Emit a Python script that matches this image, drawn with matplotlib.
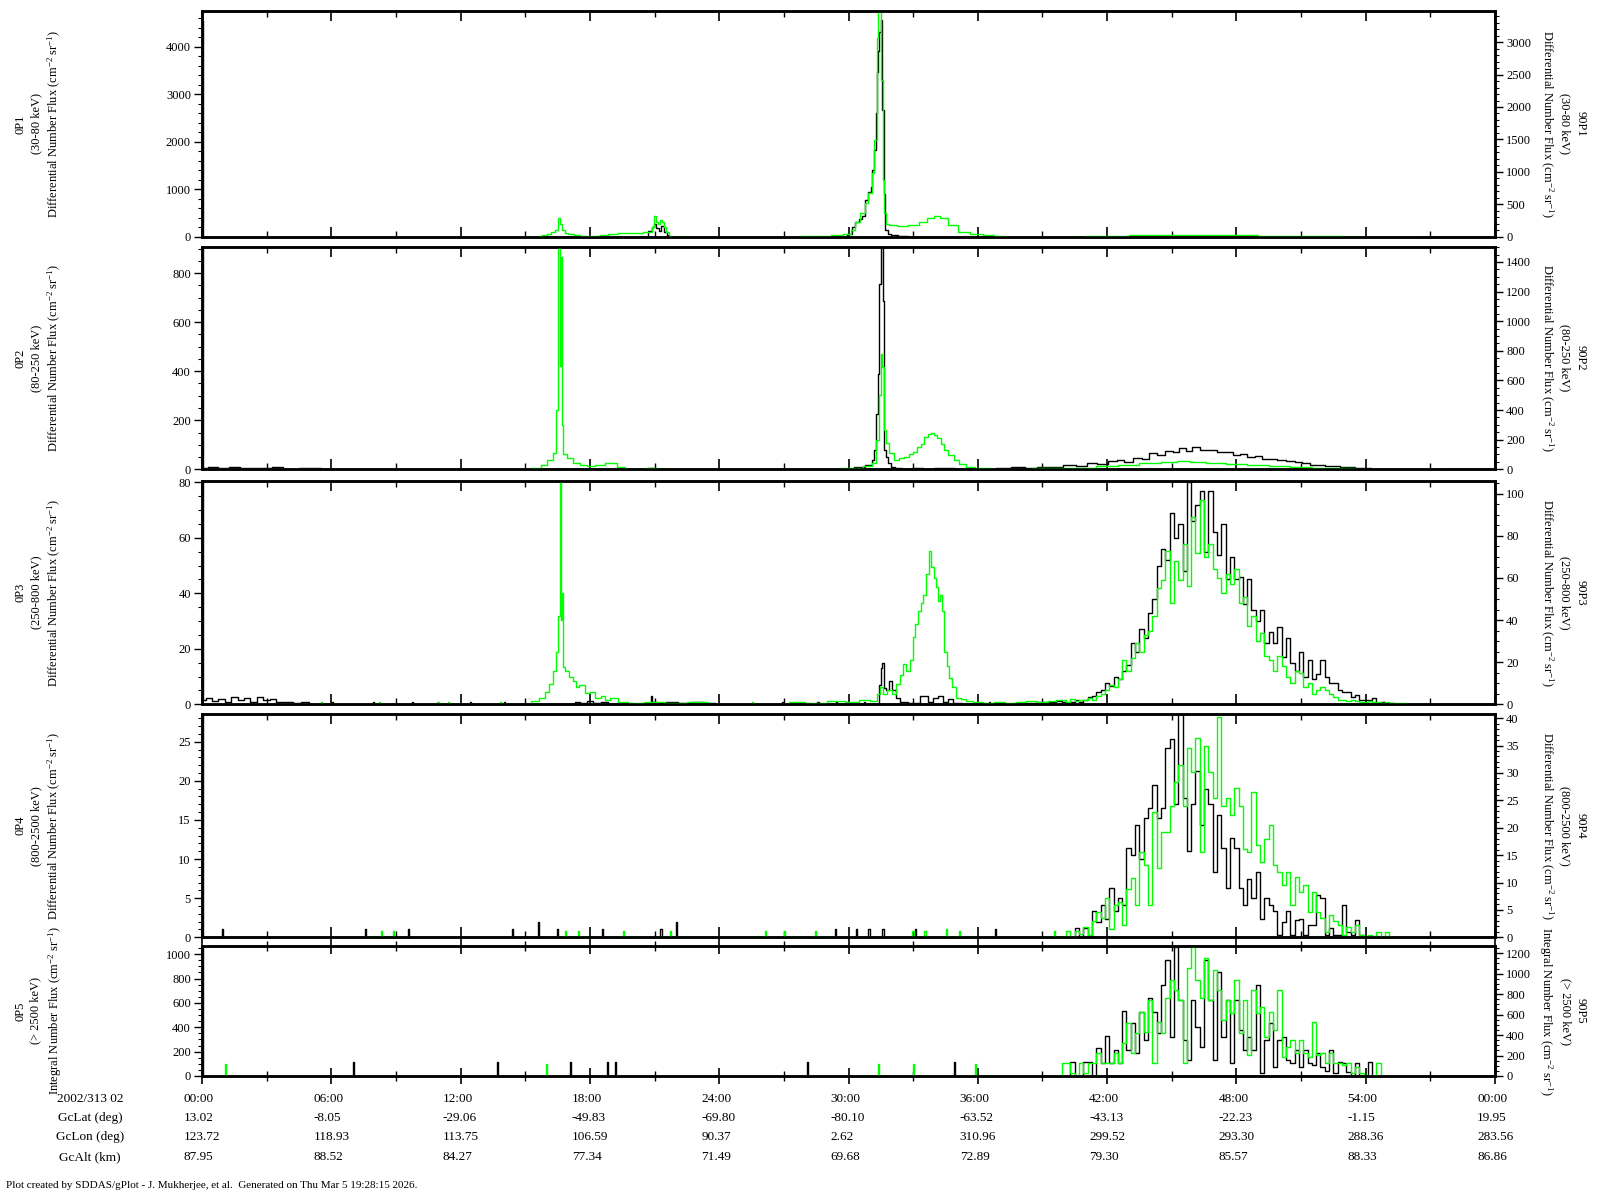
import matplotlib
matplotlib.use('Agg')
import matplotlib.pyplot as plt
import matplotlib.transforms as mtransforms
from matplotlib.ticker import MultipleLocator, AutoMinorLocator
import numpy as np

plt.rcParams['font.family'] = 'Liberation Serif'
plt.rcParams['mathtext.fontset'] = 'custom'
plt.rcParams['mathtext.rm'] = 'Liberation Serif'
plt.rcParams['mathtext.it'] = 'Liberation Serif:italic'

# ------------------------------------------------------------------
# data (hours since 2002/313 02:00, flux values)
# black = 0 deg channel (left axis), green = 90 deg channel (right axis)
# ------------------------------------------------------------------

# panel 1, 30-80 keV
p1_black = [(0, 4550), (0.05, 0), (20.6, 0), (20.8, 120), (20.95, 200), (21.02, 267),
            (21.15, 180), (21.25, 130), (21.38, 230), (21.5, 100), (21.62, 40), (21.72, 0),
            (29.8, 0), (30.1, 50), (30.19, 210), (30.4, 300), (30.55, 380), (30.69, 445),
            (30.84, 772), (31.0, 950), (31.07, 1050), (31.15, 1400), (31.23, 1820),
            (31.3, 2600), (31.34, 3470), (31.4, 3900), (31.46, 4300), (31.54, 4560),
            (31.6, 2670), (31.66, 900), (31.74, 150), (31.9, 60), (32.08, 30), (32.5, 10),
            (33.0, 0), (60, 0)]
p1_green = [(0, 0), (15.5, 0), (15.68, 15), (15.9, 30), (16.1, 45), (16.3, 70), (16.45, 110),
            (16.55, 284), (16.65, 190), (16.75, 110), (16.9, 60), (17.1, 40), (17.4, 25),
            (17.7, 15), (18.0, 10), (18.3, 15), (18.6, 25), (19.09, 45), (19.5, 55),
            (19.86, 62), (20.3, 64), (20.63, 67), (20.85, 77), (20.95, 150), (21.02, 319),
            (21.1, 220), (21.2, 200), (21.3, 250), (21.38, 230), (21.5, 150), (21.6, 80),
            (21.72, 15), (21.9, 0), (27.5, 0), (28.0, 5), (28.83, 10), (29.5, 20), (30.0, 40),
            (30.22, 103), (30.4, 220), (30.69, 365), (30.84, 515), (31.0, 680), (31.15, 980),
            (31.25, 1490), (31.35, 3060), (31.42, 3500), (31.5, 3500), (31.55, 2416),
            (31.62, 870), (31.68, 365), (31.8, 200), (32.0, 180), (32.5, 170), (33.0, 175),
            (33.5, 230), (33.8, 290), (34.09, 320), (34.4, 290), (34.86, 175), (35.33, 70),
            (35.95, 40), (36.5, 20), (37.0, 5), (37.5, 0), (40, 0), (42, 10), (44, 20),
            (46, 25), (48, 20), (50, 10), (52, 5), (54, 0), (56.5, 0)]

# panel 2, 80-250 keV
p2_black = [(0, 900), (0.05, 6), (0.5, 9), (1.0, 5), (1.5, 8), (2.0, 4), (2.5, 7), (3.0, 5),
            (3.5, 8), (4.0, 3), (5.0, 4), (6.0, 2), (6.5, 0), (15.5, 0), (16.0, 2), (17.0, 3),
            (18.0, 2), (19.0, 1), (20.5, 0), (20.9, 6), (21.2, 3), (21.5, 0), (29.5, 0),
            (30.0, 3), (30.5, 8), (31.0, 18), (31.15, 38), (31.25, 78), (31.32, 227),
            (31.39, 390), (31.46, 755), (31.52, 910), (31.58, 910), (31.64, 687), (31.7, 78),
            (31.78, 51), (31.9, 25), (32.0, 11), (32.3, 6), (32.7, 3), (33.2, 5), (33.7, 3),
            (34.2, 6), (34.7, 4), (35.2, 3), (35.8, 2), (36.5, 3), (37.2, 5), (37.9, 8),
            (38.5, 6), (39.0, 11), (39.6, 9), (40.3, 17), (40.8, 14), (41.3, 24), (41.8, 21),
            (42.3, 33), (42.6, 37), (43.0, 31), (43.4, 48), (43.8, 44), (44.1, 66), (44.5, 58),
            (44.9, 75), (45.2, 70), (45.5, 87), (45.8, 76), (46.1, 90), (46.5, 78), (46.9, 79),
            (47.3, 70), (47.7, 72), (48.0, 60), (48.3, 62), (48.7, 52), (49.0, 55), (49.4, 44),
            (49.7, 41), (50.1, 36), (50.5, 32), (50.9, 28), (51.2, 25), (51.6, 19), (51.9, 18),
            (52.3, 14), (52.6, 12), (53.0, 9), (53.3, 8), (53.7, 5), (54.0, 4), (54.5, 2),
            (55.0, 1), (55.5, 0), (60, 0)]
p2_green = [(0, 3), (3, 2), (6, 2), (10, 1), (15.0, 3), (15.53, 7), (15.9, 30), (16.15, 63),
            (16.4, 107), (16.5, 400), (16.57, 1510), (16.63, 700), (16.69, 1433), (16.74, 300),
            (16.8, 100), (17.08, 74), (17.39, 40), (17.7, 30), (18.0, 22), (18.5, 30),
            (18.93, 45), (19.1, 40), (19.4, 18), (19.86, 4), (20.3, 0), (20.9, 8), (21.3, 0),
            (29.0, 2), (30.3, 7), (31.0, 20), (31.2, 40), (31.35, 197), (31.47, 500),
            (31.54, 780), (31.6, 690), (31.68, 264), (31.76, 175), (32.0, 107), (32.2, 63),
            (32.45, 75), (32.7, 85), (32.9, 100), (33.1, 119), (33.3, 150), (33.45, 170),
            (33.6, 220), (33.75, 235), (33.9, 242), (34.05, 230), (34.2, 208), (34.35, 170),
            (34.5, 130), (34.75, 95), (35.0, 63), (35.3, 35), (35.6, 18), (36.1, 7), (37, 3),
            (38, 5), (39, 6), (40, 7), (41, 12), (42, 20), (43, 30), (44, 40), (45, 52),
            (45.5, 55), (46.2, 50), (47, 45), (48, 38), (49, 30), (50, 24), (51, 18), (52, 12),
            (53, 8), (54, 5), (55, 3), (56, 0), (57.5, 0)]

# panels 3-5: quiet part before 40 h, then the storm on a 0.2 h grid (40.0 ... 56.0)
storm_hours = np.round(np.arange(40.0, 56.01, 0.2), 1)

# panel 3, 250-800 keV
p3_black_quiet = [(0.0, 80.5), (0.05, 1.5), (0.3, 2.4), (0.6, 1.2), (0.9, 2.0), (1.2, 1.0),
                  (1.5, 2.8), (1.8, 1.5), (2.1, 2.2), (2.4, 1.0), (2.7, 2.6), (3.0, 1.4),
                  (3.3, 2.0), (3.6, 0.8), (4.0, 1.0), (4.4, 0.6), (4.8, 0.8), (5.1, 0), (6.0, 0),
                  (6.05, 0.8), (6.1, 0), (7.9, 0), (7.95, 0.8), (8.0, 0), (9.7, 0), (9.75, 0.8),
                  (9.8, 0), (12.4, 0), (12.45, 0.8), (12.5, 0), (14.0, 0), (14.05, 0.8),
                  (14.1, 0), (17.2, 0), (17.4, 1.0), (17.7, 0.6), (18.0, 1.2), (18.3, 0.5),
                  (18.7, 0.8), (19.0, 0), (20.8, 0), (20.85, 3.0), (20.9, 1.0), (21.3, 0.6),
                  (21.8, 1.0), (22.4, 0.5), (23.0, 0.8), (23.6, 0.4), (24.0, 0), (26.9, 0),
                  (26.95, 1.0), (27.0, 0), (28.5, 0), (28.6, 1.0), (28.7, 0), (29.4, 0),
                  (29.45, 0.8), (29.5, 0), (30.7, 0), (30.75, 1.0), (30.8, 0), (31.35, 0),
                  (31.45, 7), (31.52, 13), (31.6, 15), (31.68, 6), (31.8, 5), (31.95, 8.4),
                  (32.1, 5), (32.3, 2.4), (32.5, 1), (33.0, 0.5), (33.6, 3), (33.8, 1),
                  (34.0, 2.4), (34.3, 3), (34.5, 1), (34.7, 2), (35.0, 0.5), (35.5, 0),
                  (36.5, 0), (36.55, 0.8), (36.6, 0), (38.0, 0), (38.5, 0.6), (39.0, 1.0),
                  (39.5, 0.8), (39.8, 1.2)]
p3_black_storm = [1, 0.5, 1, 1.5, 1, 1.5, 2.5, 3, 4.5, 5,
                  7.5, 6.5, 10, 9, 12, 14, 22, 19, 27, 24,
                  33, 38, 50, 56, 52, 69, 60, 65, 48, 80,
                  66, 72, 77, 55, 77, 62, 54, 65, 45, 53,
                  45, 46, 36, 45, 34, 30, 34, 22, 26, 22,
                  28, 17, 24, 15, 12, 19, 10, 16, 9, 11,
                  16, 10, 7.6, 7.6, 5.2, 4.6, 4.6, 2.8, 3.4, 1.6,
                  1.6, 1.6, 2.2, 0.4, 1, 0, 0.5, 0, 0, 0,
                  0]
p3_green_quiet = [(0.0, 0), (5.5, 0), (5.55, 1), (5.6, 0), (8.2, 0), (8.25, 1), (8.3, 0),
                  (10.9, 0), (10.95, 1), (11.0, 0), (11.4, 0), (11.45, 1), (11.5, 0), (13.8, 0),
                  (13.85, 1), (13.9, 0), (15.0, 0), (15.5, 1.5), (15.8, 3), (16.0, 6),
                  (16.2, 9.5), (16.35, 16), (16.5, 25), (16.57, 42), (16.62, 110), (16.67, 40),
                  (16.72, 53), (16.78, 17.5), (16.95, 16), (17.1, 13), (17.3, 11), (17.4, 8),
                  (17.6, 9), (17.9, 5.5), (18.1, 6), (18.4, 3), (18.6, 4), (18.8, 2), (19.1, 3),
                  (19.5, 1), (20.0, 0.5), (21.0, 1), (22.0, 0.5), (23.0, 1), (24.0, 0),
                  (25.5, 0), (25.55, 1), (25.6, 0), (27.0, 0), (27.5, 1), (28.5, 0.5),
                  (29.5, 1.5), (30.2, 1), (30.8, 2), (31.2, 1.6), (31.4, 5), (31.5, 8),
                  (31.7, 5), (31.9, 7), (32.1, 5), (32.3, 9.5), (32.45, 14), (32.6, 19),
                  (32.75, 16), (32.95, 21), (33.05, 32), (33.15, 38), (33.3, 44.5), (33.4, 48),
                  (33.5, 52), (33.65, 62), (33.8, 73), (33.9, 65), (34.0, 60), (34.1, 55.6),
                  (34.2, 49), (34.3, 52), (34.4, 44.5), (34.5, 24.6), (34.6, 18), (34.7, 12.7),
                  (34.9, 8), (35.1, 3), (35.3, 2.5), (35.6, 1.6), (36.0, 1), (36.5, 0.5),
                  (37.0, 1), (37.5, 0.5), (38.0, 1), (38.5, 1.5), (39.0, 1), (39.5, 1.5),
                  (39.8, 2)]
p3_green_storm = [2, 1, 2.5, 1.5, 2, 2, 3, 2, 4, 5,
                  7, 9, 8, 12, 21, 16, 22, 29, 25, 33,
                  35, 42, 55, 59, 73, 48, 68, 59, 76, 56,
                  89, 72, 97, 70, 76, 64, 60, 53, 62, 57,
                  64, 48, 51, 37, 42, 30, 34, 23, 21, 16,
                  23, 18, 13, 10, 16, 15, 8, 10, 5, 7,
                  8, 7, 5, 3.6, 2, 2, 1.5, 2, 1.5, 1,
                  1, 1.5, 1, 1, 0.5, 1, 0.5, 0.5, 0.5, 0.5,
                  0]

# panel 4, 800-2500 keV
p4_black_quiet = [(0.0, 28.5), (0.05, 0), (0.9, 0), (0.95, 1), (1.0, 0), (7.55, 0), (7.6, 1),
                  (7.65, 0), (9.55, 0), (9.6, 1), (9.65, 0), (14.35, 0), (14.4, 1), (14.45, 0),
                  (15.55, 0), (15.6, 2), (15.65, 0), (16.45, 0), (16.5, 1), (16.55, 0),
                  (18.55, 0), (18.6, 1), (18.65, 0), (21.25, 0), (21.3, 1), (21.35, 0),
                  (21.95, 0), (22.0, 2), (22.05, 0), (29.35, 0), (29.4, 1), (29.45, 0),
                  (30.3, 0), (30.35, 1), (30.4, 0), (30.9, 0), (30.95, 1), (31.0, 0),
                  (31.55, 0), (31.6, 1), (31.65, 0), (33.05, 0), (33.1, 1), (33.15, 0),
                  (36.75, 0), (36.8, 1), (36.85, 0), (39.8, 0)]
p4_black_storm = [0, 0, 0, 1.2, 0, 1.2, 0, 3.3, 2, 4.1,
                  2.4, 6.3, 3.3, 5, 4.1, 11.4, 10.5, 14.4, 10, 15.2,
                  16.5, 19.5, 15.2, 16.5, 24.2, 25.4, 17, 28.5, 17.8, 11,
                  17, 21.2, 14.4, 19, 17, 8.4, 15.6, 11.4, 6.3, 12.7,
                  11.4, 6.3, 4.1, 7.5, 5, 8.4, 2.4, 5, 4.1, 3.3,
                  0.3, 2, 3.3, 0.3, 2.2, 2.4, 0.3, 1.6, 1.6, 5.4,
                  5, 0.3, 1.2, 0.3, 0.3, 4.1, 0.7, 0.3, 2.2, 0.3,
                  0, 0, 0, 0, 0, 0, 0, 0, 0, 0,
                  0]
p4_green_quiet = [(0, 0), (8.3, 0), (8.35, 1.1), (8.4, 0), (8.85, 0), (8.9, 1.1), (8.95, 0),
                  (16.8, 0), (16.85, 1.1), (16.9, 0), (17.4, 0), (17.45, 1.1), (17.5, 0),
                  (19.5, 0), (19.55, 1.1), (19.6, 0), (21.7, 0), (21.75, 1.1), (21.8, 0),
                  (26.1, 0), (26.15, 1.1), (26.2, 0), (27.0, 0), (27.05, 1.1), (27.1, 0),
                  (28.4, 0), (28.45, 1.1), (28.5, 0), (32.9, 0), (33.0, 1.1), (33.1, 0),
                  (33.5, 0), (33.55, 1.1), (33.6, 0), (34.5, 0), (34.55, 1.6), (34.6, 0),
                  (35.1, 0), (35.15, 1.1), (35.2, 0), (39.5, 0), (39.55, 1.1), (39.6, 0),
                  (39.8, 0)]
p4_green_storm = [0, 1.2, 0, 1.2, 0.6, 1.9, 0.4, 2.9, 4.7, 3.5,
                  7.1, 1.6, 5.9, 6.5, 2.2, 8.9, 10.8, 5.9, 15.6, 13.2,
                  5.9, 22.9, 12.6, 19.3, 19.3, 24, 28.4, 31.4, 24, 34.5,
                  30.2, 36.3, 15.6, 35, 30.2, 25.4, 40.2, 24, 25.4, 22.3,
                  27.2, 24, 16.2, 15.6, 26.6, 16.8, 13.8, 18, 20.5, 13.2,
                  12, 9.5, 12, 5.9, 11, 8.3, 9.5, 4.7, 8.3, 4.7,
                  3.5, 1, 4.1, 2.9, 2.2, 0.4, 1.9, 1, 2.2, 0.4,
                  0, 0.4, 0, 1, 0, 1, 0, 0, 0, 0,
                  0]

# panel 5, > 2500 keV (integral flux)
p5_black_quiet = [(0, 1060), (0.05, 0), (7.0, 0), (7.05, 118), (7.1, 0), (13.65, 0),
                  (13.7, 118), (13.75, 0), (17.05, 0), (17.1, 118), (17.15, 0), (18.75, 0),
                  (18.8, 118), (18.85, 0), (19.15, 0), (19.2, 118), (19.25, 0), (28.05, 0),
                  (28.1, 118), (28.15, 0), (34.85, 0), (34.9, 118), (34.95, 0), (39.8, 0)]
p5_black_storm = [0, 0, 118, 0, 0, 118, 118, 0, 227, 104,
                  328, 104, 213, 104, 533, 213, 432, 186, 528, 295,
                  637, 528, 350, 747, 952, 323, 1056, 624, 295, 131,
                  624, 405, 240, 952, 624, 131, 856, 323, 624, 104,
                  624, 378, 213, 323, 213, 747, 27, 295, 432, 77,
                  295, 323, 131, 104, 213, 77, 213, 104, 90, 186,
                  77, 41, 213, 27, 118, 104, 35, 0, 104, 0,
                  0, 118, 0, 0, 0, 0, 0, 0, 0, 0,
                  0]
p5_green_quiet = [(0, 0), (1.05, 0), (1.1, 120), (1.15, 0), (15.95, 0), (16.0, 120),
                  (16.05, 0), (31.35, 0), (31.4, 120), (31.45, 0), (32.95, 0), (33.0, 120),
                  (33.05, 0), (35.85, 0), (35.9, 120), (35.95, 0), (39.8, 0)]
p5_green_storm = [124, 124, 26, 0, 124, 26, 124, 124, 221, 124,
                  124, 124, 221, 124, 319, 514, 221, 417, 628, 433,
                  742, 124, 531, 417, 759, 938, 840, 742, 124, 1052,
                  1257, 938, 759, 1150, 742, 1035, 840, 547, 742, 612,
                  938, 417, 742, 205, 840, 612, 677, 384, 628, 449,
                  840, 189, 286, 352, 221, 352, 221, 189, 531, 205,
                  221, 124, 221, 124, 124, 107, 124, 26, 91, 26,
                  0, 0, 0, 124, 0, 0, 0, 0, 0, 0,
                  0]

# axis ranges and tick steps (left / right)
ylims_left = [4750, 908, 80.5, 28.5, 1067]
ylims_right = [3480, 1503, 106, 40.7, 1270]
steps_left = [1000, 200, 20, 5, 200]
steps_right = [500, 200, 20, 5, 200]

energies = ['30-80 keV', '80-250 keV', '250-800 keV', '800-2500 keV', '> 2500 keV']
flux_kind = ['Differential', 'Differential', 'Differential', 'Differential', 'Integral']

# ephemeris table under the time axis
tick_hours = [0, 6, 12, 18, 24, 30, 36, 42, 48, 54, 60]
time_labels = ['00:00', '06:00', '12:00', '18:00', '24:00', '30:00', '36:00', '42:00',
               '48:00', '54:00', '00:00']
gclat = ['13.02', '-8.05', '-29.06', '-49.83', '-69.80', '-80.10', '-63.52', '-43.13',
         '-22.23', '-1.15', '19.95']
gclon = ['123.72', '118.93', '113.75', '106.59', '90.37', '2.62', '310.96', '299.52',
         '293.30', '288.36', '283.56']
gcalt = ['87.95', '88.52', '84.27', '77.34', '71.49', '69.68', '72.89', '79.30', '85.57',
         '88.33', '86.86']
row_names = ['2002/313 02', 'GcLat (deg)', 'GcLon (deg)', 'GcAlt (km)']


def build(quiet, storm=None, end=None):
    hrs = [p[0] for p in quiet]
    vals = [p[1] for p in quiet]
    if storm is not None:
        hrs += list(storm_hours)
        vals += list(storm)
    if end is not None:
        hrs.append(end)
        vals.append(0)
    return np.array(hrs), np.array(vals)


series = [
    (build(p1_black), build(p1_green)),
    (build(p2_black), build(p2_green)),
    (build(p3_black_quiet, p3_black_storm, 60), build(p3_green_quiet, p3_green_storm, 57.5)),
    (build(p4_black_quiet, p4_black_storm, 60), build(p4_green_quiet, p4_green_storm, 57.5)),
    (build(p5_black_quiet, p5_black_storm, 60), build(p5_green_quiet, p5_green_storm, 57.5)),
]

# ------------------------------------------------------------------
# figure
# ------------------------------------------------------------------
W, H = 1600, 1200
fig = plt.figure(figsize=(16, 12), dpi=100)

x0, x1 = 202, 1495
panel_px = [(11, 236.7), (246.7, 469.3), (481, 704.3), (714.3, 937.3), (946, 1076)]

green = '#00ff00'
lab_fs = 9
tick_fs = 9

axes = []
for i, (top, bot) in enumerate(panel_px):
    ax = fig.add_axes([x0 / W, 1 - bot / H, (x1 - x0) / W, (bot - top) / H])
    axr = ax.twinx()
    (bh, bv), (gh, gv) = series[i]
    ax.plot(bh, bv, drawstyle='steps-mid', color='black', lw=1.0)
    axr.plot(gh, gv, drawstyle='steps-mid', color=green, lw=1.0)

    ax.set_xlim(0, 60)
    ax.set_ylim(0, ylims_left[i])
    axr.set_ylim(0, ylims_right[i])

    ax.xaxis.set_major_locator(MultipleLocator(6))
    ax.xaxis.set_minor_locator(MultipleLocator(3))
    last = (i == len(panel_px) - 1)
    ax.tick_params(axis='x', which='major', direction='in', top=True, bottom=True,
                   length=7, width=1.2, labelbottom=False)
    ax.tick_params(axis='x', which='minor', direction='in', top=True, bottom=True,
                   length=4, width=1.0)
    if last:
        ax.tick_params(axis='x', which='major', bottom=True, direction='inout', length=12)
        ax.tick_params(axis='x', which='minor', direction='inout', length=7)

    ax.yaxis.set_major_locator(MultipleLocator(steps_left[i]))
    ax.yaxis.set_minor_locator(AutoMinorLocator())
    axr.yaxis.set_major_locator(MultipleLocator(steps_right[i]))
    axr.yaxis.set_minor_locator(AutoMinorLocator())
    for a in (ax, axr):
        a.tick_params(axis='y', which='major', direction='out', length=6, width=1.0,
                      labelsize=tick_fs, pad=2)
        a.tick_params(axis='y', which='minor', direction='out', length=3, width=0.8)
        for sp in a.spines.values():
            sp.set_linewidth(1.8)

    # channel labels, left (0 deg) and right (90 deg)
    unit = flux_kind[i] + ' Number Flux (cm$^{-2}$ sr$^{-1}$)'
    ymid = 1 - (top + bot) / 2 / H
    fig.text(39 / W, ymid, '0P%d\n(%s)\n%s' % (i + 1, energies[i], unit), rotation=90,
             ha='center', va='center', multialignment='center', fontsize=lab_fs,
             linespacing=1.35)
    fig.text(1562 / W, ymid, '90P%d\n(%s)\n%s' % (i + 1, energies[i], unit), rotation=270,
             ha='center', va='center', multialignment='center', fontsize=lab_fs,
             linespacing=1.35)
    axes.append(ax)

# ephemeris table
ax5 = axes[-1]
shift = mtransforms.ScaledTranslation(-18 / 100, 0, fig.dpi_scale_trans)
trans = mtransforms.blended_transform_factory(ax5.transData, fig.transFigure) + shift
row_y = [1099, 1118, 1137, 1157]
for r, (name, vals) in enumerate(zip(row_names, [time_labels, gclat, gclon, gcalt])):
    y = 1 - row_y[r] / H
    fig.text(90 / W, y, name, ha='center', va='center', fontsize=9.5)
    for h, s in zip(tick_hours, vals):
        fig.text(h, y, s, transform=trans, ha='left', va='center', fontsize=9.5)

fig.text(6 / W, 1 - 1186 / H,
         'Plot created by SDDAS/gPlot - J. Mukherjee, et al.  Generated on Thu Mar 5 19:28:15 2026.',
         ha='left', va='center', fontsize=8)

fig.savefig('out.png', dpi=100)
